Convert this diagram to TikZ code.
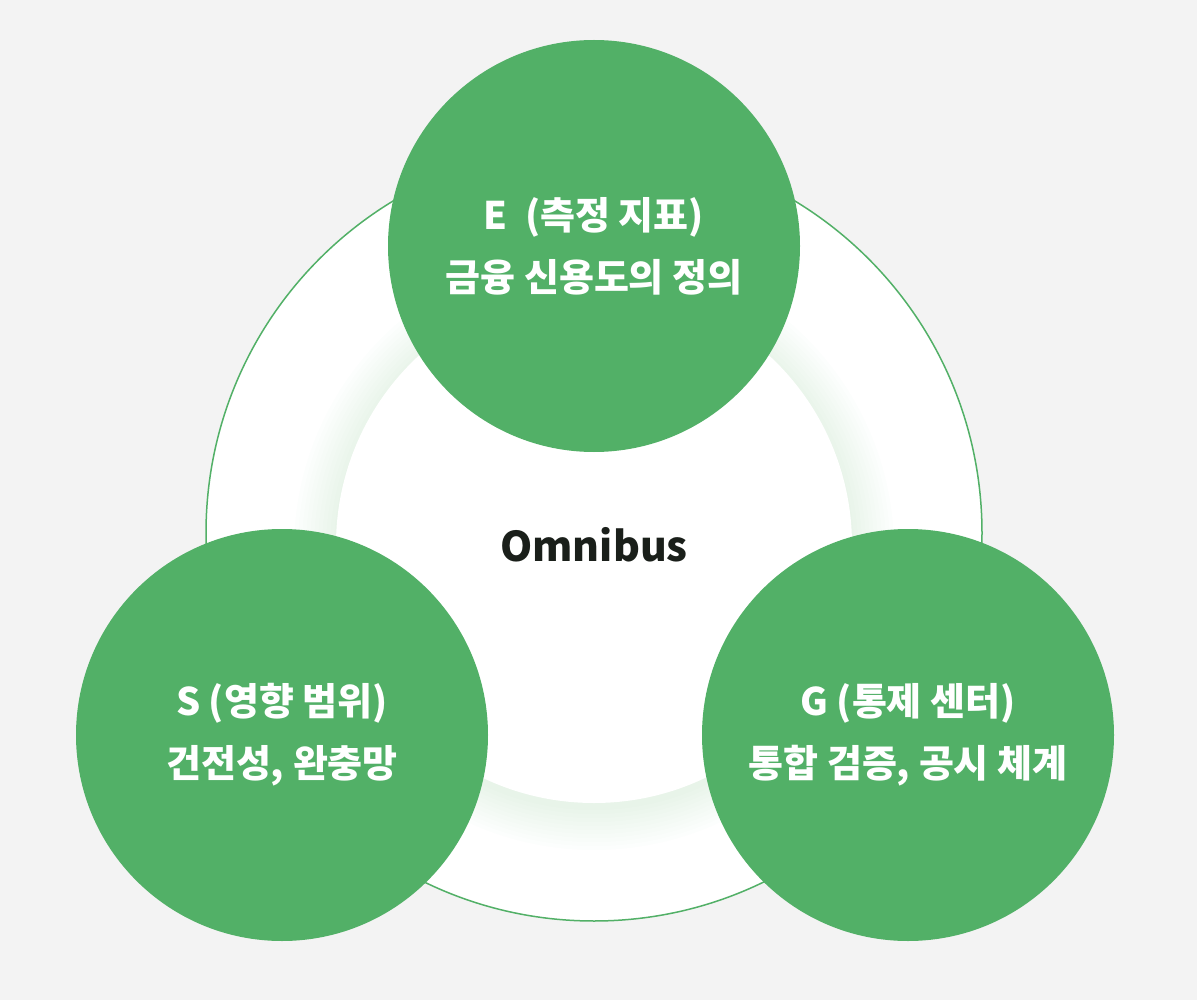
\documentclass[tikz,border=0pt]{standalone}
\usepackage{fontspec}
\newfontfamily\kr{Noto Sans CJK KR}
\definecolor{bg}{HTML}{F3F3F3}
\definecolor{gr}{HTML}{52B067}
\definecolor{txt}{HTML}{1A1F1A}
\tikzset{
 pill/.style={circle,fill=gr,minimum size=412pt,inner sep=0pt,align=center,text=white,font=\kr\bfseries\fontsize{38}{62}\selectfont},
}
\begin{document}
\begin{tikzpicture}[x=1pt,y=-1pt]
\fill[bg] (0,0) rectangle (1197,1000);
\useasboundingbox (0,0) rectangle (1197,1000);
\node[circle,draw=gr,line width=1.5pt,fill=white,minimum size=776pt,inner sep=0pt] (outer) at (594,533) {};
\foreach \r in {300,296,...,260}{
 \fill[gr,opacity=0.012] (594,550) circle (\r);}
\node[circle,fill=white,minimum size=516pt,inner sep=0pt] (inner) at (594,545) {};
\node[font=\kr\bfseries\fontsize{41}{48}\selectfont,text=txt] (om) at (594,545) {Omnibus};
\node[pill] (E) at (594,246) {E\ \ (측정 지표)\\금융 신용도의 정의};
\node[pill] (S) at (282,735) {S (영향 범위)\\건전성, 완충망};
\node[pill] (G) at (908,735) {G (통제 센터)\\통합 검증, 공시 체계};
\end{tikzpicture}
\end{document}
